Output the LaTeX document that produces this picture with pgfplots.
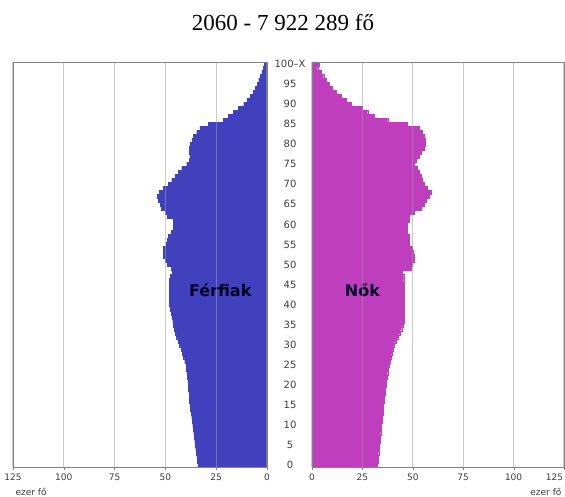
\documentclass[border=0pt]{standalone}
\usepackage{fontspec}
\setmainfont{DejaVu Sans}
\newfontfamily\titlefont{Liberation Serif}
\usepackage{pgfplots}
\usepackage{pgfplotstable}
\pgfplotsset{compat=1.18}

\definecolor{mcol}{RGB}{65,65,190}
\definecolor{fcol}{RGB}{190,62,190}
\definecolor{framec}{RGB}{130,130,130}
\definecolor{labc}{RGB}{60,60,60}

% age, men (ezer fo), women (ezer fo)
\pgfplotstableread{
age m f
0 34.0 32.5
1 34.2 32.7
2 34.5 32.9
3 34.8 33.1
4 35.1 33.3
5 35.4 33.5
6 35.6 33.7
7 35.8 33.9
8 36.1 34.1
9 36.3 34.3
10 36.6 34.5
11 36.8 34.7
12 37.1 34.9
13 37.4 35.1
14 37.6 35.3
15 37.9 35.5
16 38.1 35.7
17 38.3 35.9
18 38.4 36.1
19 38.6 36.3
20 38.7 36.6
21 38.9 36.9
22 39.1 37.2
23 39.4 37.5
24 39.6 37.8
25 39.9 38.1
26 40.5 38.7
27 41.1 39.2
28 41.7 39.8
29 42.4 40.3
30 43.2 40.9
31 43.9 41.8
32 44.6 42.7
33 45.2 43.6
34 45.6 44.5
35 46.0 45.4
36 46.4 45.6
37 46.8 45.7
38 47.2 45.7
39 47.6 45.7
40 48.0 45.7
41 48.1 45.7
42 48.2 45.7
43 48.2 45.7
44 48.1 45.7
45 48.0 45.7
46 48.0 45.5
47 47.5 45.5
48 46.5 44.9
49 47.0 49.0
50 49.0 49.5
51 50.0 50.5
52 51.0 50.5
53 51.0 50.0
54 51.0 49.5
55 49.5 48.2
56 49.0 48.0
57 48.5 48.0
58 47.0 47.4
59 46.0 47.4
60 46.0 47.4
61 46.0 48.0
62 49.0 48.4
63 50.0 50.5
64 52.0 54.0
65 52.5 55.5
66 53.5 56.5
67 54.0 58.3
68 53.0 59.0
69 51.0 57.3
70 48.6 55.6
71 46.9 54.8
72 45.3 54.0
73 43.7 53.1
74 42.0 52.3
75 39.5 50.7
76 38.2 51.5
77 37.9 53.1
78 38.2 54.0
79 38.2 55.6
80 37.9 56.0
81 37.0 56.0
82 36.2 55.6
83 34.6 54.8
84 33.0 53.1
85 28.8 47.4
86 21.4 37.5
87 19.0 30.9
88 16.5 27.6
89 14.0 25.0
90 11.5 19.3
91 9.9 16.8
92 8.2 14.4
93 6.9 11.9
94 5.8 10.2
95 4.9 8.6
96 4.1 6.9
97 3.3 5.8
98 2.5 4.5
99 1.7 2.8
100 1.2 3.5
}\pyramid

\pgfplotsset{pyr/.style={
    scale only axis,
    height=405pt,
    anchor=south west,
    xmin=0, xmax=125,
    ymin=-0.5, ymax=100.5,
    xtick={0,25,50,75,100,125},
    xtick pos=bottom,
    tick align=outside,
    major tick length=3pt,
    xmajorgrids,
    grid style={color=gray!75, line width=1.2pt, opacity=0.55},
    axis on top,
    axis line style={framec},
    xtick style={framec},
    ticklabel style={font=\fontsize{9}{10}\selectfont, text=labc},
}}

\begin{document}
\begin{tikzpicture}[x=1pt,y=1pt]
\useasboundingbox (0,0) rectangle (565,497);
\node[font=\titlefont\fontsize{23}{26}\selectfont] at (283,474) {2060 - 7 922 289 fő};

% Férfiak
\begin{axis}[pyr, at={(13pt,30pt)}, width=254pt, x dir=reverse, ytick=\empty,
    xticklabels={0,25,50,75,100,125}]
    \addplot[xbar, bar width=1, bar shift=0pt, fill=mcol, draw=mcol, line width=0.2pt]
        table[x=m, y=age] {\pyramid};
    \node[font=\bfseries\fontsize{16}{18}\selectfont, text=black!85!blue]
        at (axis cs:23,43.5) {Férfiak};
\end{axis}

% Nők
\begin{axis}[pyr, at={(312pt,30pt)}, width=252pt,
    xticklabels={0,25,50,75,100,\makebox[0pt][r]{125\hspace{1pt}}},
    ytick={0,5,10,15,20,25,30,35,40,45,50,55,60,65,70,75,80,85,90,95,100},
    yticklabels={0,5,10,15,20,25,30,35,40,45,50,55,60,65,70,75,80,85,90,95,100--X},
    ytick style={draw=none},
    yticklabel style={anchor=center, xshift=-19pt, font=\fontsize{10}{11}\selectfont}]
    \addplot[xbar, bar width=1, bar shift=0pt, fill=fcol, draw=fcol, line width=0.2pt]
        table[x=f, y=age] {\pyramid};
    \node[font=\bfseries\fontsize{16}{18}\selectfont, text=black!85!blue]
        at (axis cs:25,43.5) {Nők};
\end{axis}

\node[anchor=base west, font=\fontsize{9}{10}\selectfont, text=labc] at (12,1) {ezer fő};
\node[anchor=base east, font=\fontsize{9}{10}\selectfont, text=labc] at (565,1) {ezer fő};
\end{tikzpicture}
\end{document}
